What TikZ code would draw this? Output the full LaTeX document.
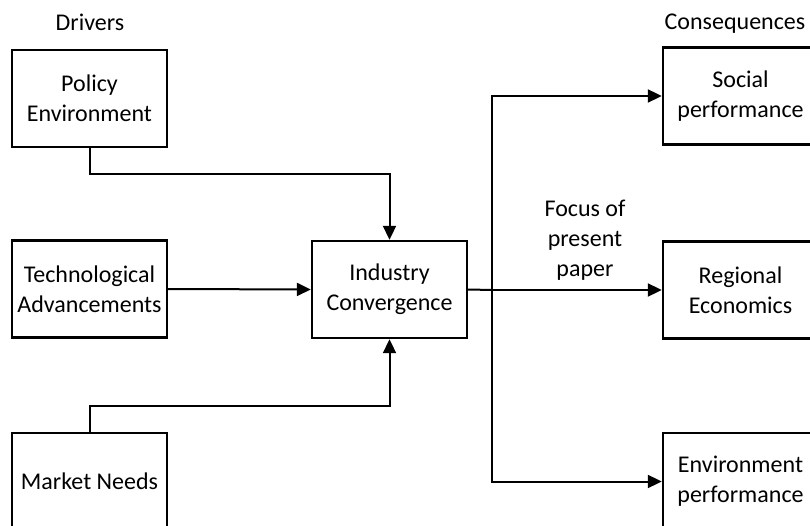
\documentclass[tikz,border=0pt]{standalone}
\usepackage{fontspec}
\setmainfont{Carlito}
\usetikzlibrary{arrows.meta}
\tikzset{
  box/.style={draw=black, line width=2.4pt, minimum width=155pt, minimum height=97pt, align=center, inner sep=0pt, font=\fontsize{24}{30}\selectfont},
  lbl/.style={align=center, inner sep=0pt, font=\fontsize{24}{30}\selectfont},
  conn/.style={draw=black, line width=2pt},
  arr/.style={conn, -{Triangle[length=14pt,width=13pt]}}
}
\begin{document}
\begin{tikzpicture}[x=1pt,y=-1pt]
\useasboundingbox (0,0) rectangle (810,526);
\clip (0,0) rectangle (810,526);
\node[box] (pol) at (89.5,98.5) {Policy\\Environment};
\node[box] (tech) at (89.5,289) {Technological\\Advancements};
\node[box] (mkt) at (89.5,481.5) {Market Needs};
\node[box] (ic) at (389.5,289.5) {Industry\\Convergence};
\node[box] (soc) at (740.5,96) {Social\\performance};
\node[box] (reg) at (740.5,290) {Regional\\Economics};
\node[box] (env) at (740.5,481.5) {Environment\\performance};
\node[lbl] (drv) at (90,22) {Drivers};
\node[lbl] (cons) at (735,24) {Consequences};
\node[lbl] (focus) at (585,240) {Focus of\\present\\paper};
\coordinate (pj) at (89.5,174);
\coordinate (mj) at (89.5,406);
\coordinate (br) at (492,290);
\draw[arr] (pol.south) -- (pj) -| (ic.north);
\draw[arr] (mkt.north) -- (mj) -| (ic.south);
\draw[arr] (tech.east) -- (ic.west);
\draw[conn] (ic.east) -- (br);
\draw[arr] (br) -- (reg.west);
\draw[arr] (br) |- (soc.west);
\draw[arr] (br) |- (env.west);
\end{tikzpicture}
\end{document}
